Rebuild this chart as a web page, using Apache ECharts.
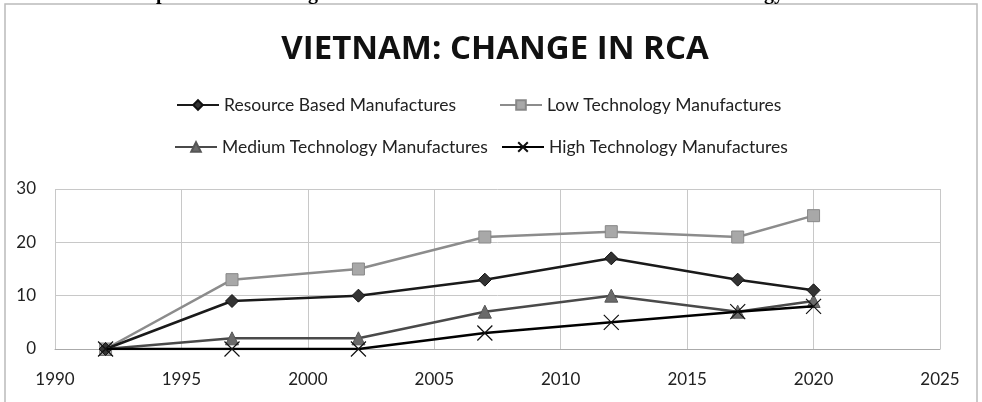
<!DOCTYPE html>
<html><head><meta charset="utf-8">
<script src="https://cdn.jsdelivr.net/npm/echarts@6/dist/echarts.min.js"></script>
<style>html,body{margin:0;padding:0;background:#fff}#c{width:982px;height:402px}</style>
</head><body><div id="c"></div>
<script>
const years = [1992, 1997, 2002, 2007, 2012, 2017, 2020];
const resourceBased = [0, 9, 10, 13, 17, 13, 11];
const lowTech = [0, 13, 15, 21, 22, 21, 25];
const mediumTech = [0, 2, 2, 7, 10, 7, 9];
const highTech = [0, 0, 0, 3, 5, 7, 8];
const seriesNames = ['Resource Based Manufactures', 'Low Technology Manufactures', 'Medium Technology Manufactures', 'High Technology Manufactures'];
const titleText = 'VIETNAM: CHANGE IN RCA';

const pair = arr => years.map((y, i) => [y, arr[i]]);
const FONT = 'Lato';
const chart = echarts.init(document.getElementById('c'));
const xPath = 'path://M0,0L10,10M10,0L0,10';
const legendText = { fontFamily: FONT, fontSize: 17.5, color: '#222' };
const mkLegend = (name, left, top) => ({ data: [name], left: left, top: top, itemWidth: 42, itemHeight: 12, itemGap: 0, padding: 0, textStyle: legendText });
chart.setOption({
  animation: false,
  backgroundColor: '#fff',
  title: { text: titleText, left: 490, textAlign: 'center', top: 28,
    textStyle: { fontFamily: 'Open Sans', fontWeight: 'bold', fontSize: 33, color: '#111' } },
  legend: [
    mkLegend(seriesNames[0], 176, 96),
    mkLegend(seriesNames[1], 499, 96),
    mkLegend(seriesNames[2], 174, 138),
    mkLegend(seriesNames[3], 501, 138)
  ],
  grid: { left: 55, right: 42, top: 189, bottom: 53 },
  xAxis: { type: 'value', min: 1990, max: 2025, interval: 5,
    axisLine: { show: true, lineStyle: { color: '#aaa' } }, axisTick: { show: false },
    axisLabel: { fontFamily: FONT, fontSize: 17, color: '#222', margin: 22, formatter: v => String(v) },
    splitLine: { show: true, lineStyle: { color: '#c8c8c8' } } },
  yAxis: { type: 'value', min: 0, max: 30, interval: 10,
    axisLine: { show: false }, axisTick: { show: false },
    axisLabel: { fontFamily: FONT, fontSize: 17, color: '#222', margin: 19 },
    splitLine: { show: true, lineStyle: { color: '#c8c8c8' } } },
  graphic: [
    { type: 'rect', shape: { x: 5, y: 4, width: 972, height: 420 }, style: { fill: 'none', stroke: '#bbb', lineWidth: 1.5 }, z: -1, silent: true },
    { type: 'text', x: 156, y: 4, style: { text: 'p', font: 'bold 20px "Liberation Serif"', fill: '#000', verticalAlign: 'bottom' } },
    { type: 'text', x: 308, y: 4, style: { text: 'g', font: 'bold 20px "Liberation Serif"', fill: '#000', verticalAlign: 'bottom' } },
    { type: 'text', x: 764, y: 4, style: { text: 'gy', font: 'bold 20px "Liberation Serif"', fill: '#000', verticalAlign: 'bottom' } }
  ],
  series: [
    { name: seriesNames[0], type: 'line', data: pair(resourceBased), symbol: 'diamond', symbolSize: 13,
      lineStyle: { color: '#1a1a1a', width: 2.5 }, itemStyle: { color: '#333', borderColor: '#111', borderWidth: 1 }, z: 4 },
    { name: seriesNames[1], type: 'line', data: pair(lowTech), symbol: 'rect', symbolSize: 12,
      lineStyle: { color: '#8c8c8c', width: 2.5 }, itemStyle: { color: '#a8a8a8', borderColor: '#888', borderWidth: 1 }, z: 3 },
    { name: seriesNames[2], type: 'line', data: pair(mediumTech), symbol: 'triangle', symbolSize: 13,
      lineStyle: { color: '#4a4a4a', width: 2.5 }, itemStyle: { color: '#6a6a6a', borderColor: '#555', borderWidth: 1 }, z: 2 },
    { name: seriesNames[3], type: 'line', data: pair(highTech), symbol: xPath, symbolSize: 15,
      lineStyle: { color: '#000', width: 2.5 }, itemStyle: { color: 'none', borderColor: '#111', borderWidth: 1.2 }, z: 5 }
  ]
});
</script></body></html>
